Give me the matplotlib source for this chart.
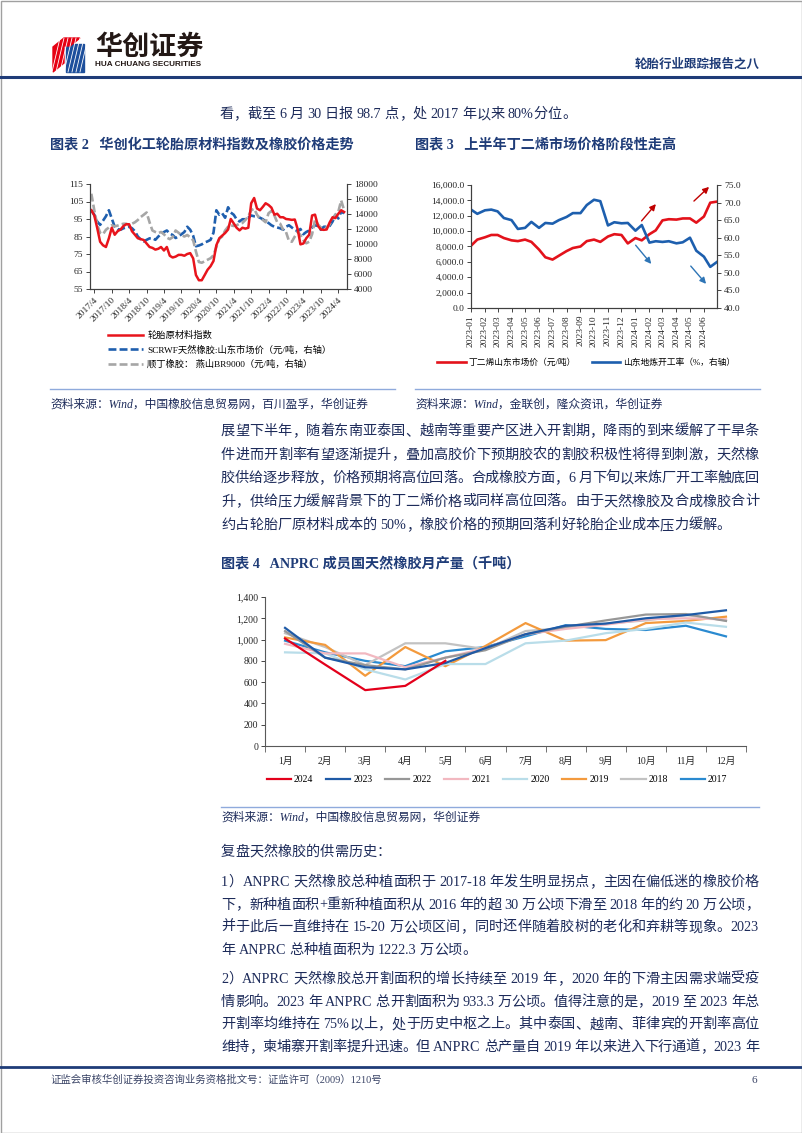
import re
import numpy as np
import pandas as pd
import matplotlib
matplotlib.use('Agg')
import matplotlib.pyplot as plt
import matplotlib.dates as mdates
from matplotlib.patches import Polygon, Rectangle
from matplotlib.ticker import FuncFormatter, FixedLocator
from matplotlib.font_manager import FontProperties

plt.rcParams['font.family'] = ['Liberation Serif', 'Noto Sans CJK SC']
plt.rcParams['axes.unicode_minus'] = False

# ---------------- 数据 ----------------
# 图表2：月度，2017/3 - 2024/6
months2 = pd.date_range('2017-03-01', periods=88, freq='MS')
tire_index = [100, 97, 90, 82, 80, 79, 84, 90, 86, 88, 89, 91, 92, 92, 88, 86, 84, 83.5, 83, 81,
              79, 78.5, 77.5, 78, 79, 77, 79, 74, 73, 73.5, 74.5, 74.5, 74, 75, 75.5, 72.5, 63, 60,
              60, 63, 66, 68, 71, 80, 84, 85.5, 87, 89, 95, 92.5, 90, 88.5, 90, 89.5, 90, 104, 107,
              101, 100, 102, 104, 103, 101.5, 97.5, 98, 96, 96, 95, 94.8, 94.5, 94.7, 89, 80.5, 81,
              84, 86, 97, 97.5, 91, 89, 88.8, 89, 93, 96, 95.5, 98, 100, 99]
scrwf = [14500, 13900, 13000, 12550, 13100, 13700, 14500, 13400, 12300, 12000, 11900, 12100, 12200,
         12300, 12100, 11700, 11000, 10600, 10350, 10550, 10750, 10780, 10560, 11000, 11300, 11600,
         11800, 11400, 11200, 10800, 11000, 11300, 11600, 12300, 11900, 11100, 9700, 9800, 9950,
         10200, 10350, 10550, 11500, 14500, 13900, 14100, 13500, 14900, 14200, 13900, 13300, 13000,
         13300, 13300, 13500, 13800, 13700, 13700, 13500, 13300, 13000, 12800, 12500, 12300, 12200,
         12100, 11900, 12300, 12500, 12200, 11900, 11700, 12000, 11300, 11600, 11800, 12200, 12500,
         12400, 11900, 12300, 12300, 12400, 13000, 13900, 13400, 14300, 14100]
br9000 = [16700, 14500, 12600, 11500, 11300, 11900, 12200, 12500, 12350, 12450, 12600, 12700, 12700,
          12550, 12700, 12900, 13200, 13600, 13900, 14200, 12900, 11800, 11600, 11450, 11600, 11300,
          10850, 10650, 10900, 11800, 11500, 11200, 11000, 11200, 10900, 10500, 9000, 7600, 7500,
          7700, 7900, 8100, 8500, 9600, 10700, 11000, 11800, 12300, 12500, 12400, 12500, 12700,
          12800, 13200, 13700, 14500, 14700, 13900, 13400, 13200, 12900, 14100, 14400, 13800, 12900,
          12700, 11900, 11600, 10400, 10300, 11000, 11600, 11200, 10500, 10100, 10300, 11300, 13200,
          12600, 12200, 12100, 12200, 12600, 13400, 13900, 14300, 15800, 14500]

# 图表3：半月度，2023-01 - 2024-06
dates3 = pd.date_range('2023-01-01', '2024-07-01', freq='SMS')
butadiene = [8100, 8900, 9200, 9500, 9500, 9100, 8800, 8700, 8900, 8600, 7600, 6600, 6300, 6800,
             7400, 7800, 8000, 8700, 8900, 8600, 9300, 9600, 9500, 8400, 9100, 8800, 9600, 10100,
             11400, 11550, 11500, 11650, 11650, 11100, 11900, 13700, 13850]
refinery_rate = [68.0, 66.8, 67.8, 68.0, 67.5, 65.6, 65.0, 62.5, 62.8, 64.5, 62.8, 64.2, 64.0, 65.0,
                 65.9, 67.0, 67.0, 69.3, 70.8, 70.4, 63.5, 64.4, 64.1, 64.2, 62.0, 63.6, 58.6, 59.0,
                 58.8, 59.0, 58.4, 58.7, 60.0, 56.3, 54.6, 51.7, 53.2]

# 图表4：ANPRC 月产量（千吨）
month_labels = ['1月', '2月', '3月', '4月', '5月', '6月', '7月', '8月', '9月', '10月', '11月', '12月']
years4 = ['2024', '2023', '2022', '2021', '2020', '2019', '2018', '2017']
prod = {
    '2024': [1010, 765, 525, 565, 800],
    '2023': [1110, 830, 740, 720, 780, 920, 1050, 1130, 1150, 1200, 1230, 1275],
    '2022': [1080, 830, 760, 720, 830, 900, 1050, 1120, 1180, 1235, 1240, 1175],
    '2021': [960, 870, 870, 740, 830, 920, 1050, 1100, 1140, 1190, 1200, 1190],
    '2020': [880, 870, 720, 625, 770, 770, 965, 990, 1060, 1100, 1160, 1120],
    '2019': [1020, 950, 660, 930, 750, 940, 1155, 990, 995, 1155, 1175, 1215],
    '2018': [1060, 930, 760, 965, 965, 910, 1080, 1110, 1150, 1180, 1230, 1180],
    '2017': [990, 880, 800, 750, 890, 930, 1030, 1135, 1100, 1090, 1130, 1030],
}
colors4 = {'2024': '#e3001b', '2023': '#1f5aa6', '2022': '#979797', '2021': '#f2b8c0',
           '2020': '#b9dde9', '2019': '#f39a3d', '2018': '#c2c2c2', '2017': '#2a8ad0'}

# ---------------- 画布 ----------------
W, H = 802, 1133
NAVY = '#1f3c78'
TXT = '#1d2b5a'
fig = plt.figure(figsize=(W / 100, H / 100), dpi=100)
page = fig.add_axes([0, 0, 1, 1])
page.set_xlim(0, W)
page.set_ylim(H, 0)
page.axis('off')


def box(x0, y0, x1, y1):
    return [x0 / W, 1 - y1 / H, (x1 - x0) / W, (y1 - y0) / H]


renderer = fig.canvas.get_renderer()
BODY = FontProperties(family=['Liberation Serif', 'Noto Sans CJK SC'], size=10.2, weight='light')
_cache = {}


def advance(tok, prop):
    key = (tok, prop.get_size_in_points())
    if key not in _cache:
        w1 = renderer.get_text_width_height_descent('口' + tok + '口', prop, ismath=False)[0]
        w0 = renderer.get_text_width_height_descent('口口', prop, ismath=False)[0]
        _cache[key] = w1 - w0
    return _cache[key]


def put_line(s, x0, y, x1=None, prop=BODY, color=TXT):
    # 两端对齐：逐字放置
    toks = re.findall(r'[A-Za-z0-9.%+\-]+|\s|.', s)
    advs = [advance(t, prop) for t in toks]
    gap = 0
    if x1 is not None and len(toks) > 1:
        gap = (x1 - x0 - sum(advs)) / (len(toks) - 1)
    x = x0
    for t, a in zip(toks, advs):
        if not t.isspace():
            page.text(x, y, t, fontproperties=prop, color=color, ha='left', va='baseline')
        x += a + gap


# 页面边框、页眉
page.add_patch(Rectangle((0.5, 0.5), W - 1, H - 1, fill=False, ec='#a0a0a0', lw=1))
page.add_patch(Polygon([(53, 47), (64, 38), (64, 63), (53, 72)], color='#e60012'))
page.add_patch(Polygon([(66, 44), (84, 44), (84, 72), (66, 72)], color='#1d4f9c'))
page.add_patch(Polygon([(64, 38), (80, 38), (70, 46), (64, 46)], color='#e60012'))
for k in range(8):
    page.plot([52 + k * 4, 60 + k * 4], [72, 38], color='white', lw=0.6)
page.text(95, 47, '华创证券', fontsize=19.5, weight='bold', color='#231815', va='center',
          family=['Noto Sans CJK SC'])
page.text(95, 64, 'HUA CHUANG SECURITIES', fontsize=5.9, weight='bold', color='#231815',
          va='center', family=['Liberation Sans Narrow', 'Liberation Sans'])
page.text(760, 64, '轮胎行业跟踪报告之八', fontsize=9, weight='bold', color=NAVY, ha='right',
          va='center', family=['Noto Sans CJK SC'])
page.plot([0, W], [77, 77], color=NAVY, lw=2.2)

put_line('看，截至 6 月 30 日报 98.7 点，处 2017 年以来 80%分位。', 219, 118)

# 图表标题
TITLE = FontProperties(family=['Liberation Serif', 'Noto Sans CJK SC'], size=10.2, weight='bold')
page.text(50, 148, '图表 2   华创化工轮胎原材料指数及橡胶价格走势', fontproperties=TITLE, color=NAVY,
          va='baseline')
page.text(415, 148, '图表 3   上半年丁二烯市场价格阶段性走高', fontproperties=TITLE, color=NAVY,
          va='baseline')

# ---------------- 图表2 ----------------
ax2 = fig.add_axes(box(90, 184, 347, 289))
ax2r = ax2.twinx()
ax2r.plot(months2, scrwf, color='#1f5fae', lw=1.9, ls=(0, (3, 1.2)), label='SCRWF天然橡胶:山东市场价（元/吨，右轴）')
ax2r.plot(months2, br9000, color='#a6a6a6', lw=1.9, ls=(0, (3, 1.2)), label='顺丁橡胶： 燕山BR9000（元/吨，右轴）')
ax2.plot(months2, tire_index, color='#e8141c', lw=1.8, label='轮胎原材料指数')
ax2.set_zorder(ax2r.get_zorder() + 1)
ax2.patch.set_visible(False)
ax2.set_ylim(55, 115)
ax2.set_yticks(range(55, 116, 10))
ax2r.set_ylim(4000, 18000)
ax2r.set_yticks(range(4000, 18001, 2000))
ax2.set_xlim(pd.Timestamp('2017-02-15'), pd.Timestamp('2024-07-01'))
ax2.xaxis.set_major_locator(mdates.MonthLocator(bymonth=[4, 10]))
ax2.xaxis.set_major_formatter(FuncFormatter(
    lambda v, p: '%d/%d' % (mdates.num2date(v).year, mdates.num2date(v).month)))
for a in (ax2, ax2r):
    a.spines['top'].set_visible(False)
    for s in ('left', 'right', 'bottom'):
        a.spines[s].set_color('#404040')
        a.spines[s].set_linewidth(0.8)
    a.tick_params(direction='out', length=3, width=0.6, labelsize=6.8, colors='#262626', pad=2)
ax2.tick_params(axis='x', labelrotation=45)
plt.setp(ax2.get_xticklabels(), ha='right', rotation_mode='anchor')
h2 = ax2.get_lines() + ax2r.get_lines()
fig.legend(h2, [l.get_label() for l in h2], loc='upper left', bbox_to_anchor=(108 / W, 1 - 331 / H),
           frameon=False, fontsize=6.7, handlelength=3.8, handletextpad=0.4, labelspacing=0.55,
           borderaxespad=0, borderpad=0)

# ---------------- 图表3 ----------------
ax3 = fig.add_axes(box(471, 185, 717, 308))
ax3r = ax3.twinx()
ax3.plot(dates3, butadiene, color='#e3121b', lw=1.9, label='丁二烯山东市场价（元/吨）')
ax3r.plot(dates3, refinery_rate, color='#1d5fae', lw=1.9, label='山东地炼开工率（%，右轴）')
ax3.set_ylim(0, 16000)
ax3.set_yticks(range(0, 16001, 2000))
ax3.yaxis.set_major_formatter(FuncFormatter(lambda v, p: '{:,.1f}'.format(v)))
ax3r.set_ylim(40, 75)
ax3r.set_yticks(range(40, 76, 5))
ax3r.yaxis.set_major_formatter(FuncFormatter(lambda v, p: '{:.1f}'.format(v)))
ax3.set_xlim(pd.Timestamp('2023-01-01'), pd.Timestamp('2024-06-30'))
ax3.xaxis.set_major_locator(mdates.MonthLocator())
ax3.xaxis.set_major_formatter(mdates.DateFormatter('%Y-%m'))
for a in (ax3, ax3r):
    a.spines['top'].set_visible(False)
    for s in ('left', 'right', 'bottom'):
        a.spines[s].set_color('#404040')
        a.spines[s].set_linewidth(0.8)
    a.tick_params(direction='out', length=3, width=0.6, labelsize=6.8, colors='#262626', pad=2)
ax3.tick_params(axis='x', labelrotation=90)
arrows = [((0.686, 0.691), (0.759, 0.862), '#c00000'), ((0.898, 0.854), (0.976, 1.0), '#c00000'),
          ((0.662, 0.528), (0.740, 0.341), '#2e75b6'), ((0.886, 0.358), (0.963, 0.179), '#2e75b6')]
for p0, p1, c in arrows:
    ax3r.annotate('', xy=p1, xytext=p0, xycoords='axes fraction', textcoords='axes fraction',
                  arrowprops=dict(arrowstyle='-|>', color=c, lw=1.0, mutation_scale=9))
h3 = ax3.get_lines() + ax3r.get_lines()
fig.legend(h3, [l.get_label() for l in h3], loc='center', bbox_to_anchor=(586 / W, 1 - 363 / H),
           ncol=2, frameon=False, fontsize=6.3, handlelength=3.3, handletextpad=0.3,
           columnspacing=1.8, borderaxespad=0, borderpad=0)

# 分隔线与资料来源
SRC = FontProperties(family=['Liberation Serif', 'Noto Sans CJK SC'], size=8.5, style='italic')
page.plot([50, 395], [389, 389], color='#8faadc', lw=1)
page.plot([415, 760], [389, 389], color='#8faadc', lw=1)
page.text(50, 408, '资料来源：Wind，中国橡胶信息贸易网，百川盈孚，华创证券', fontproperties=SRC,
          color=TXT, va='baseline')
page.text(415, 408, '资料来源：Wind，金联创，隆众资讯，华创证券', fontproperties=SRC,
          color=TXT, va='baseline')

# 正文段落
para1 = ['展望下半年，随着东南亚泰国、越南等重要产区进入开割期，降雨的到来缓解了干旱条',
         '件进而开割率有望逐渐提升，叠加高胶价下预期胶农的割胶积极性将得到刺激，天然橡',
         '胶供给逐步释放，价格预期将高位回落。合成橡胶方面，6 月下旬以来炼厂开工率触底回',
         '升，供给压力缓解背景下的丁二烯价格或同样高位回落。由于天然橡胶及合成橡胶合计',
         '约占轮胎厂原材料成本的 50%，橡胶价格的预期回落利好轮胎企业成本压力缓解。']
for i, s in enumerate(para1):
    put_line(s, 221, 435 + 23.5 * i, None if i == len(para1) - 1 else 759)

page.text(221, 567, '图表 4   ANPRC 成员国天然橡胶月产量（千吨）', fontproperties=TITLE, color=NAVY,
          va='baseline')

# ---------------- 图表4 ----------------
ax4 = fig.add_axes(box(265, 597, 746, 746))
x4 = np.arange(len(month_labels))
for y in years4[::-1]:
    ax4.plot(x4[:len(prod[y])], prod[y], color=colors4[y], lw=1.6, label=y)
ax4.set_xlim(-0.5, 11.5)
ax4.set_ylim(0, 1400)
ax4.set_yticks(range(0, 1401, 200))
ax4.yaxis.set_major_formatter(FuncFormatter(lambda v, p: '{:,.0f}'.format(v)))
ax4.set_xticks(x4)
ax4.set_xticklabels(month_labels)
ax4.xaxis.set_minor_locator(FixedLocator(np.arange(-0.5, 12, 1)))
ax4.tick_params(axis='x', which='major', length=0, pad=8, labelsize=7, colors='#262626')
ax4.tick_params(axis='x', which='minor', length=4, width=0.6, direction='out', color='#595959')
ax4.tick_params(axis='y', length=3, width=0.6, direction='out', labelsize=7, colors='#262626', pad=2)
for s in ('top', 'right'):
    ax4.spines[s].set_visible(False)
for s in ('left', 'bottom'):
    ax4.spines[s].set_color('#595959')
    ax4.spines[s].set_linewidth(0.8)
h4 = {l.get_label(): l for l in ax4.get_lines()}
fig.legend([h4[y] for y in years4], years4, loc='center', bbox_to_anchor=(497 / W, 1 - 780 / H),
           ncol=8, frameon=False, fontsize=7, handlelength=2.5, handletextpad=0.3,
           columnspacing=1.3, borderaxespad=0, borderpad=0)

page.plot([221, 759], [807, 807], color='#8faadc', lw=1)
page.text(221, 821, '资料来源：Wind，中国橡胶信息贸易网，华创证券', fontproperties=SRC, color=TXT,
          va='baseline')

# 复盘段落
put_line('复盘天然橡胶的供需历史：', 221, 856)
p1 = ['1）ANPRC 天然橡胶总种植面积于 2017-18 年发生明显拐点，主因在偏低迷的橡胶价格',
      '下，新种植面积+重新种植面积从 2016 年的超 30 万公顷下滑至 2018 年的约 20 万公顷，',
      '并于此后一直维持在 15-20 万公顷区间，同时还伴随着胶树的老化和弃耕等现象。2023',
      '年 ANPRC 总种植面积为 1222.3 万公顷。']
for i, s in enumerate(p1):
    put_line(s, 221, 886 + 22.6 * i, None if i == len(p1) - 1 else 759)
p2 = ['2）ANPRC 天然橡胶总开割面积的增长持续至 2019 年，2020 年的下滑主因需求端受疫',
      '情影响。2023 年 ANPRC 总开割面积为 933.3 万公顷。值得注意的是，2019 至 2023 年总',
      '开割率均维持在 75%以上，处于历史中枢之上。其中泰国、越南、菲律宾的开割率高位',
      '维持，柬埔寨开割率提升迅速。但 ANPRC 总产量自 2019 年以来进入下行通道，2023 年']
for i, s in enumerate(p2):
    put_line(s, 221, 983 + 22.6 * i, 759)

# 页脚
page.plot([0, W], [1067, 1067], color=NAVY, lw=2)
page.text(50, 1083, '证监会审核华创证券投资咨询业务资格批文号：证监许可（2009）1210号', fontsize=7.5,
          color='#3a4466', va='baseline')
page.text(757, 1083, '6', fontsize=8, color='#3a4466', ha='right', va='baseline')

fig.savefig('out.png', dpi=100)
